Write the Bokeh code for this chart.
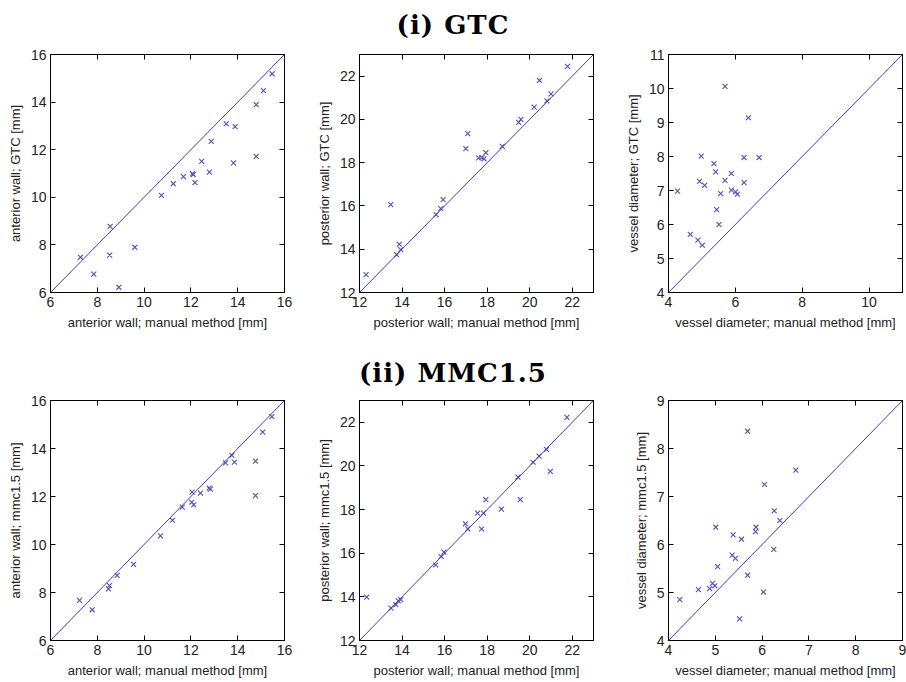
from bokeh.plotting import figure
from bokeh.layouts import column, row
from bokeh.models import Div, LinearAxis, FixedTicker, Slope, Range1d
from bokeh.embed import file_html
from bokeh.resources import INLINE

# ---------------- data ----------------
# (i) GTC
ant_manual_i = [7.28, 7.85, 8.55, 8.53, 8.92, 9.60, 10.74, 11.25, 11.68, 12.07, 12.10, 12.17,
                12.46, 12.79, 12.87, 13.51, 13.89, 13.82, 14.79, 14.79, 15.10, 15.47]
ant_gtc = [7.48, 6.77, 8.78, 7.57, 6.22, 7.90, 10.08, 10.57, 10.87, 10.99, 10.95, 10.62,
           11.51, 11.06, 12.35, 13.09, 12.97, 11.45, 13.89, 11.72, 14.48, 15.19]

post_manual_i = [12.31, 13.47, 13.74, 13.87, 13.94, 15.60, 15.82, 15.93, 17.00, 17.09, 17.60,
                 17.75, 17.85, 17.94, 18.71, 19.48, 19.59, 20.21, 20.46, 20.81, 21.00, 21.78]
post_gtc = [12.83, 16.06, 13.75, 14.23, 13.98, 15.60, 15.88, 16.29, 18.65, 19.34, 18.22,
            18.23, 18.18, 18.46, 18.75, 19.86, 20.00, 20.57, 21.80, 20.86, 21.18, 22.45]

diam_manual_i = [4.27, 4.65, 4.88, 5.01, 4.93, 4.98, 5.08, 5.36, 5.41, 5.44, 5.51, 5.56,
                 5.69, 5.69, 5.88, 5.88, 6.01, 6.06, 6.26, 6.26, 6.39, 6.71]
diam_gtc = [6.98, 5.71, 5.54, 5.39, 7.27, 8.01, 7.15, 7.79, 7.55, 6.44, 6.00, 6.91,
            10.06, 7.30, 7.50, 7.01, 6.96, 6.89, 7.23, 7.97, 9.14, 7.97]

# (ii) MMC1.5
ant_manual_ii = [7.24, 7.78, 8.48, 8.52, 8.85, 9.55, 10.70, 11.21, 11.63, 12.05, 12.03, 12.12,
                 12.41, 12.78, 12.83, 13.48, 13.75, 13.86, 14.76, 14.76, 15.07, 15.46]
ant_mmc = [7.67, 7.28, 8.15, 8.29, 8.71, 9.17, 10.36, 11.01, 11.56, 12.18, 11.76, 11.65,
           12.14, 12.35, 12.31, 13.40, 13.71, 13.43, 13.47, 12.04, 14.68, 15.33]

post_manual_ii = [12.34, 13.48, 13.71, 13.82, 13.94, 15.58, 15.84, 15.97, 16.98, 17.09, 17.55,
                  17.74, 17.83, 17.94, 18.67, 19.45, 19.56, 20.16, 20.44, 20.79, 20.97, 21.75]
post_mmc = [13.99, 13.48, 13.64, 13.82, 13.87, 15.46, 15.85, 16.05, 17.35, 17.12, 17.84,
            17.11, 17.84, 18.46, 18.02, 19.49, 18.46, 20.17, 20.45, 20.76, 19.75, 22.23]

diam_manual_ii = [4.24, 4.64, 4.88, 4.94, 4.99, 5.01, 5.05, 5.36, 5.38, 5.43, 5.52, 5.56,
                  5.69, 5.69, 5.86, 5.87, 6.03, 6.05, 6.25, 6.26, 6.38, 6.72]
diam_mmc = [4.85, 5.06, 5.08, 5.19, 5.14, 6.36, 5.54, 5.78, 6.20, 5.71, 4.45, 6.11,
            8.36, 5.36, 6.27, 6.36, 5.01, 7.25, 5.90, 6.70, 6.50, 7.55]

# axis ranges and ticks
ant_range = (6, 16)
ant_ticks = [6, 8, 10, 12, 14, 16]
post_range = (12, 23)
post_ticks = [12, 14, 16, 18, 20, 22]
diam_range_i = (4, 11)
diam_xticks_i = [4, 6, 8, 10]
diam_yticks_i = [4, 5, 6, 7, 8, 9, 10, 11]
diam_range_ii = (4, 9)
diam_ticks_ii = [4, 5, 6, 7, 8, 9]

titles = ["(i) GTC", "(ii) MMC1.5"]

MARK = "#5050b8"
LINE = "#3b3bcc"
FONT = "Liberation Sans"


def panel(x, y, xr, yr, xt, yt, xlabel, ylabel, bl, br, bt, bb, fh):
    p = figure(output_backend="svg", toolbar_location=None,
               frame_width=234, frame_height=fh,
               x_range=Range1d(*xr), y_range=Range1d(*yr),
               min_border_left=bl, min_border_right=br,
               min_border_top=bt, min_border_bottom=bb,
               background_fill_color="white", border_fill_color="white")
    p.grid.visible = False
    p.outline_line_color = "black"
    p.outline_line_width = 1
    p.add_layout(Slope(gradient=1, y_intercept=0, line_color=LINE, line_width=1))
    p.scatter(x, y, marker="x", size=7, line_color=MARK, line_width=1.1)
    for ax, ticks, lab in ((p.xaxis[0], xt, xlabel), (p.yaxis[0], yt, ylabel)):
        ax.ticker = FixedTicker(ticks=ticks)
        ax.axis_label = lab
        ax.axis_label_text_font = FONT
        ax.axis_label_text_font_size = "13px"
        ax.axis_label_text_font_style = "normal"
        ax.axis_label_text_color = "#222222"
        ax.axis_label_standoff = 5
        ax.major_label_text_font = FONT
        ax.major_label_text_font_size = "14px"
        ax.major_label_text_color = "#222222"
        ax.major_label_standoff = 4
        ax.major_tick_in = 5
        ax.major_tick_out = 0
        ax.minor_tick_line_color = None
        ax.axis_line_color = "black"
        ax.major_tick_line_color = "black"
    for loc, ticks in (("above", xt), ("right", yt)):
        ax2 = LinearAxis(ticker=FixedTicker(ticks=ticks))
        ax2.major_label_text_font_size = "1px"
        ax2.major_label_text_color = None
        ax2.major_label_standoff = 0
        ax2.major_tick_in = 5
        ax2.major_tick_out = 0
        ax2.minor_tick_line_color = None
        ax2.axis_line_color = "black"
        ax2.major_tick_line_color = "black"
        p.add_layout(ax2, loc)
    return p


def title_div(txt, h, lh):
    html = ('<div style="width:906px;height:%dpx;line-height:%dpx;text-align:center;'
            'font-family:\'DejaVu Serif\';font-weight:bold;font-size:26px;'
            'letter-spacing:1px;color:#000;">%s</div>' % (h, lh, txt))
    return Div(text=html, width=906, height=h, margin=0)


fh1, fh2 = 238, 240
r1 = row(
    panel(ant_manual_i, ant_gtc, ant_range, ant_range, ant_ticks, ant_ticks,
          "anterior wall; manual method [mm]", "anterior wall; GTC [mm]", 50, 25, 10, 48, fh1),
    panel(post_manual_i, post_gtc, post_range, post_range, post_ticks, post_ticks,
          "posterior wall; manual method [mm]", "posterior wall; GTC [mm]", 50, 19, 10, 48, fh1),
    panel(diam_manual_i, diam_gtc, diam_range_i, diam_range_i, diam_xticks_i, diam_yticks_i,
          "vessel diameter; manual method [mm]", "vessel diameter; GTC [mm]", 56, 4, 10, 48, fh1),
    spacing=0)
r2 = row(
    panel(ant_manual_ii, ant_mmc, ant_range, ant_range, ant_ticks, ant_ticks,
          "anterior wall; manual method [mm]", "anterior wall; mmc1.5 [mm]", 50, 25, 10, 42, fh2),
    panel(post_manual_ii, post_mmc, post_range, post_range, post_ticks, post_ticks,
          "posterior wall; manual method [mm]", "posterior wall; mmc1.5 [mm]", 50, 19, 10, 42, fh2),
    panel(diam_manual_ii, diam_mmc, diam_range_ii, diam_range_ii, diam_ticks_ii, diam_ticks_ii,
          "vessel diameter; manual method [mm]", "vessel diameter; mmc1.5 [mm]", 56, 4, 10, 42, fh2),
    spacing=0)

layout = column(title_div(titles[0], 44, 51), r1, title_div(titles[1], 50, 67), r2, spacing=0)

open("out.html", "w").write(file_html(layout, INLINE))
